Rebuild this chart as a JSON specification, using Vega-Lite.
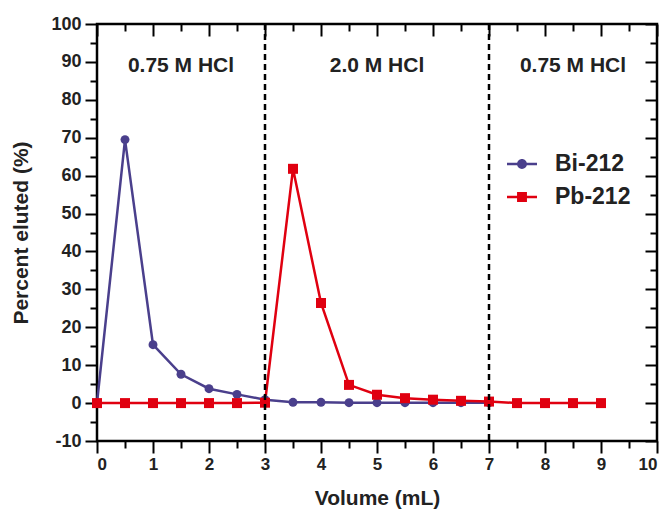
{
  "$schema": "https://vega.github.io/schema/vega-lite/v6.json",
  "width": 560,
  "height": 417,
  "autosize": {"type": "none"},
  "padding": {"left": 97, "top": 24, "right": 13, "bottom": 71},
  "background": "white",
  "config": {
    "view": {"stroke": "black", "strokeWidth": 2.5},
    "axis": {"grid": false, "domain": false, "ticks": true, "tickColor": "black", "tickWidth": 2, "tickOpacity": 1, "labelOverlap": false, "labelFont": "Liberation Sans", "labelFontWeight": "bold", "labelColor": "#222", "titleFont": "Liberation Sans", "titleFontWeight": "bold", "titleColor": "#222"},
    "text": {"font": "Liberation Sans"}
  },
  "datasets": {
    "elution": [
      {"series": "Bi-212", "x": 0, "y": 0},
      {"series": "Bi-212", "x": 0.5, "y": 69.5},
      {"series": "Bi-212", "x": 1, "y": 15.4},
      {"series": "Bi-212", "x": 1.5, "y": 7.6},
      {"series": "Bi-212", "x": 2, "y": 3.8},
      {"series": "Bi-212", "x": 2.5, "y": 2.3},
      {"series": "Bi-212", "x": 3, "y": 0.9},
      {"series": "Bi-212", "x": 3.5, "y": 0.2},
      {"series": "Bi-212", "x": 4, "y": 0.2},
      {"series": "Bi-212", "x": 4.5, "y": 0.1},
      {"series": "Bi-212", "x": 5, "y": 0.1},
      {"series": "Bi-212", "x": 5.5, "y": 0.1},
      {"series": "Bi-212", "x": 6, "y": 0.1},
      {"series": "Bi-212", "x": 6.5, "y": 0.1},
      {"series": "Bi-212", "x": 7, "y": 0.1},
      {"series": "Pb-212", "x": 0, "y": 0},
      {"series": "Pb-212", "x": 0.5, "y": 0},
      {"series": "Pb-212", "x": 1, "y": 0},
      {"series": "Pb-212", "x": 1.5, "y": 0},
      {"series": "Pb-212", "x": 2, "y": 0},
      {"series": "Pb-212", "x": 2.5, "y": 0},
      {"series": "Pb-212", "x": 3, "y": 0.1},
      {"series": "Pb-212", "x": 3.5, "y": 61.8},
      {"series": "Pb-212", "x": 4, "y": 26.4},
      {"series": "Pb-212", "x": 4.5, "y": 4.8},
      {"series": "Pb-212", "x": 5, "y": 2.2},
      {"series": "Pb-212", "x": 5.5, "y": 1.3},
      {"series": "Pb-212", "x": 6, "y": 0.9},
      {"series": "Pb-212", "x": 6.5, "y": 0.6},
      {"series": "Pb-212", "x": 7, "y": 0.4},
      {"series": "Pb-212", "x": 7.5, "y": 0},
      {"series": "Pb-212", "x": 8, "y": 0},
      {"series": "Pb-212", "x": 8.5, "y": 0},
      {"series": "Pb-212", "x": 9, "y": 0}
    ],
    "phases": [
      {"x": 1.5, "y": 89, "label": "0.75 M HCl"},
      {"x": 5, "y": 89, "label": "2.0 M HCl"},
      {"x": 8.5, "y": 89, "label": "0.75 M HCl"}
    ],
    "bounds": [{"x": 3}, {"x": 7}]
  },
  "resolve": {"axis": {"x": "independent", "y": "independent"}, "scale": {"color": "independent", "shape": "independent", "size": "independent"}},
  "layer": [
    {
      "data": {"name": "elution"},
      "mark": {"type": "line", "strokeWidth": 2.5},
      "encoding": {
        "x": {"field": "x", "type": "quantitative", "scale": {"domain": [0, 10], "nice": false},
              "axis": {"orient": "bottom", "values": [0,0.5,1,1.5,2,2.5,3,3.5,4,4.5,5,5.5,6,6.5,7,7.5,8,8.5,9,9.5,10],
                       "tickSize": {"condition": {"test": "datum.value % 1 === 0", "value": 12}, "value": 7},
                       "labelExpr": "datum.value % 1 === 0 ? '' + datum.value : ''",
                       "labelFontSize": 17, "labelPadding": 3, "title": "Volume (mL)", "titleFontSize": 21, "titlePadding": 15}},
        "y": {"field": "y", "type": "quantitative", "scale": {"domain": [-10, 100], "nice": false, "zero": false},
              "axis": {"orient": "left", "values": [-10,-5,0,5,10,15,20,25,30,35,40,45,50,55,60,65,70,75,80,85,90,95,100],
                       "tickSize": {"condition": {"test": "datum.value % 10 === 0", "value": 12}, "value": 7},
                       "labelExpr": "datum.value % 10 === 0 ? '' + datum.value : ''",
                       "labelFontSize": 18, "labelPadding": 4, "title": "Percent eluted (%)", "titleFontSize": 21, "titlePadding": 19}},
        "color": {"field": "series", "type": "nominal", "legend": null,
                  "scale": {"domain": ["Bi-212", "Pb-212"], "range": ["#4a3f8c", "#e00010"]}}
      }
    },
    {
      "data": {"name": "elution"},
      "mark": {"type": "point", "filled": true, "opacity": 1},
      "encoding": {
        "x": {"field": "x", "type": "quantitative", "axis": null},
        "y": {"field": "y", "type": "quantitative", "axis": null},
        "color": {"field": "series", "type": "nominal", "legend": null,
                  "scale": {"domain": ["Bi-212", "Pb-212"], "range": ["#4a3f8c", "#e00010"]}},
        "shape": {"field": "series", "type": "nominal", "legend": null, "scale": {"domain": ["Bi-212", "Pb-212"], "range": ["circle", "square"]}},
        "size": {"field": "series", "type": "nominal", "legend": null, "scale": {"domain": ["Bi-212", "Pb-212"], "range": [80, 100]}}
      }
    },
    {
      "data": {"name": "elution"},
      "transform": [{"filter": "datum.x < -100"}],
      "mark": {"type": "point", "filled": true, "opacity": 1, "size": 900, "strokeWidth": 0},
      "encoding": {
        "x": {"field": "x", "type": "quantitative", "axis": null},
        "y": {"field": "y", "type": "quantitative", "axis": null},
        "color": {"field": "series", "type": "nominal", "title": null,
                  "scale": {"domain": ["Bi-212", "Pb-212"], "range": ["#4a3f8c", "#e00010"]},
                  "legend": {"orient": "none", "legendX": 410, "legendY": 125, "padding": 0, "symbolSize": 900, "symbolStrokeWidth": 0, "labelFontSize": 23, "labelFont": "Liberation Sans", "labelFontWeight": "bold", "labelColor": "#222", "labelOffset": 18, "rowPadding": 6}},
        "shape": {"field": "series", "type": "nominal", "title": null,
                  "scale": {"domain": ["Bi-212", "Pb-212"], "range": ["M-1,-0.085H1V0.085H-1ZM0.33,0A0.33,0.33 0 1,1 -0.33,0A0.33,0.33 0 1,1 0.33,0Z", "M-1,-0.085H1V0.085H-1ZM-0.33,-0.33H0.33V0.33H-0.33Z"]},
                  "legend": {"orient": "none", "legendX": 410, "legendY": 125, "padding": 0, "symbolSize": 900, "symbolStrokeWidth": 0, "labelFontSize": 23, "labelFont": "Liberation Sans", "labelFontWeight": "bold", "labelColor": "#222", "labelOffset": 18, "rowPadding": 6}}
      }
    },
    {
      "data": {"name": "bounds"},
      "mark": {"type": "rule", "strokeDash": [6, 4], "strokeWidth": 2.5, "color": "black"},
      "encoding": {
        "x": {"field": "x", "type": "quantitative", "axis": null}
      }
    },
    {
      "data": {"name": "phases"},
      "mark": {"type": "text", "fontSize": 21, "fontWeight": "bold", "color": "#222"},
      "encoding": {
        "x": {"field": "x", "type": "quantitative",
              "axis": {"orient": "top", "values": [0,0.5,1,1.5,2,2.5,3,3.5,4,4.5,5,5.5,6,6.5,7,7.5,8,8.5,9,9.5,10], "labels": false,
                       "tickSize": {"condition": {"test": "datum.value % 1 === 0", "value": -12}, "value": -7}, "title": null}},
        "y": {"field": "y", "type": "quantitative",
              "axis": {"orient": "right", "values": [-10,-5,0,5,10,15,20,25,30,35,40,45,50,55,60,65,70,75,80,85,90,95,100], "labels": false,
                       "tickSize": {"condition": {"test": "datum.value % 10 === 0", "value": -12}, "value": -7}, "title": null}},
        "text": {"field": "label"}
      }
    }
  ]
}
